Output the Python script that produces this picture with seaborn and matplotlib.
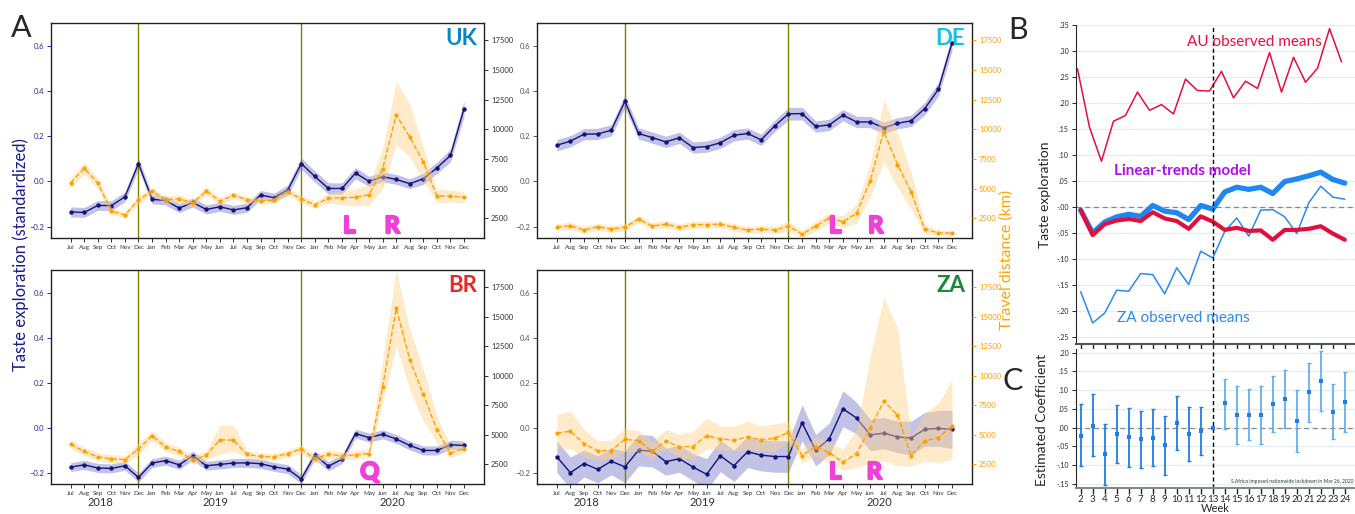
import numpy as np
import pandas as pd
import matplotlib
matplotlib.use('Agg')
import matplotlib.pyplot as plt
import matplotlib.transforms as mtransforms
import matplotlib.patheffects as pe
from matplotlib.ticker import FuncFormatter
import seaborn as sns

sns.set_style('ticks')
plt.rcParams['font.family'] = ['Lato', 'DejaVu Sans']

# ---- Panel A data (Jul 2018 .. Dec 2020) ----
months = ['Jul', 'Aug', 'Sep', 'Oct', 'Nov', 'Dec',
          'Jan', 'Feb', 'Mar', 'Apr', 'May', 'Jun', 'Jul', 'Aug', 'Sep', 'Oct', 'Nov', 'Dec',
          'Jan', 'Feb', 'Mar', 'Apr', 'May', 'Jun', 'Jul', 'Aug', 'Sep', 'Oct', 'Nov', 'Dec']
years = ['2018', '2019', '2020']

uk_taste = [-0.135, -0.137, -0.106, -0.107, -0.068, 0.079, -0.079, -0.084, -0.118, -0.093, -0.124, -0.112,
            -0.126, -0.116, -0.060, -0.072, -0.038, 0.079, 0.022, -0.031, -0.031, 0.037, 0.000, 0.021,
            0.009, -0.010, 0.012, 0.060, 0.115, 0.322]
uk_taste_ci = [0.022, 0.022, 0.022, 0.022, 0.022, 0.025, 0.02, 0.02, 0.02, 0.02, 0.02, 0.02,
               0.02, 0.02, 0.02, 0.02, 0.022, 0.025, 0.025, 0.025, 0.025, 0.025, 0.022, 0.022,
               0.022, 0.022, 0.025, 0.025, 0.028, 0.035]
uk_km = [5480, 6720, 5450, 3120, 2780, 4080, 4780, 4080, 4160, 3790, 4810, 3960, 4440, 4080, 3960,
         4050, 4750, 4130, 3650, 4190, 4250, 4270, 4500, 6690, 11220, 9340, 7260, 4390, 4390, 4270]
uk_km_lo = [5080, 6220, 5000, 2820, 2530, 3730, 4480, 3780, 3860, 3490, 4460, 3660, 4140, 3830, 3710,
            3800, 4450, 3830, 3350, 3790, 3650, 3570, 3600, 5000, 8720, 7650, 5680, 3790, 3900, 3800]
uk_km_hi = [5880, 7220, 5900, 3420, 3030, 4430, 5080, 4380, 4460, 4090, 5160, 4260, 4740, 4330, 4210,
            4300, 5050, 4430, 3950, 4590, 4850, 4970, 5400, 8390, 14040, 12150, 8490, 4980, 4900, 4750]

de_taste = [0.160, 0.178, 0.209, 0.210, 0.226, 0.354, 0.212, 0.194, 0.175, 0.193, 0.150, 0.154,
            0.171, 0.204, 0.212, 0.184, 0.246, 0.299, 0.300, 0.243, 0.250, 0.293, 0.263, 0.263,
            0.237, 0.257, 0.268, 0.322, 0.407, 0.612]
de_taste_ci = [0.025, 0.025, 0.025, 0.025, 0.025, 0.028, 0.025, 0.025, 0.025, 0.025, 0.025, 0.025,
               0.025, 0.025, 0.025, 0.025, 0.025, 0.028, 0.028, 0.025, 0.025, 0.025, 0.025, 0.025,
               0.025, 0.025, 0.025, 0.028, 0.03, 0.035]
de_km = [1770, 1880, 1520, 1800, 1600, 1770, 2440, 1850, 2020, 1740, 1970, 1970, 2020, 1740, 1520,
         1600, 1520, 1850, 1180, 1850, 2530, 2220, 2920, 5680, 9820, 7030, 4750, 1570, 1290, 1260]
de_km_lo = [1470, 1580, 1220, 1500, 1300, 1470, 2140, 1550, 1720, 1440, 1670, 1670, 1720, 1440, 1220,
            1300, 1220, 1450, 880, 1450, 2080, 1720, 2120, 4270, 7230, 5120, 3290, 1170, 1040, 1010]
de_km_hi = [2070, 2180, 1820, 2100, 1900, 2070, 2740, 2150, 2320, 2040, 2270, 2270, 2320, 2040, 1820,
            1900, 1820, 2250, 1480, 2250, 2980, 2720, 3720, 7090, 12520, 9760, 6400, 1970, 1540, 1510]

br_taste = [-0.175, -0.165, -0.179, -0.181, -0.169, -0.221, -0.157, -0.146, -0.165, -0.124, -0.169, -0.163,
            -0.157, -0.156, -0.160, -0.174, -0.184, -0.228, -0.121, -0.171, -0.140, -0.026, -0.044, -0.029,
            -0.050, -0.079, -0.101, -0.101, -0.076, -0.079]
br_taste_ci = [0.02] * 30
br_km = [4220, 3600, 3150, 2980, 2920, 3800, 4950, 3970, 3600, 2870, 3290, 4590, 4560, 3350, 3180,
         3150, 3430, 3800, 2980, 3370, 3230, 3320, 3430, 9070, 15730, 11360, 8450, 5410, 3460, 3850]
br_km_lo = [3870, 3250, 2800, 2630, 2570, 3300, 4550, 3570, 3250, 2520, 2890, 3400, 3630, 3050, 2880,
            2850, 3130, 3450, 2630, 3020, 2880, 2970, 3080, 7770, 12510, 8850, 6170, 4330, 3060, 3550]
br_km_hi = [4570, 3950, 3500, 3330, 3270, 4300, 5350, 4370, 3950, 3220, 3690, 5830, 5830, 3650, 3480,
            3450, 3730, 4150, 3330, 3720, 3580, 3670, 3780, 11380, 18940, 13920, 10540, 6590, 4050, 4150]

za_taste = [-0.129, -0.200, -0.159, -0.185, -0.149, -0.174, -0.100, -0.104, -0.151, -0.138, -0.175, -0.207,
            -0.125, -0.169, -0.107, -0.122, -0.128, -0.128, 0.022, -0.100, -0.049, 0.084, 0.043, -0.032,
            -0.024, -0.041, -0.046, -0.007, -0.003, -0.007]
za_taste_ci = [0.07, 0.07, 0.06, 0.06, 0.06, 0.07, 0.07, 0.07, 0.06, 0.06, 0.06, 0.07,
               0.07, 0.07, 0.07, 0.07, 0.07, 0.07, 0.08, 0.07, 0.07, 0.08, 0.07, 0.07,
               0.07, 0.07, 0.075, 0.075, 0.08, 0.085]
za_km = [5150, 5320, 4250, 3660, 3680, 4620, 4530, 3600, 4500, 4000, 4020, 4950, 4670, 4560, 4840,
         4590, 4730, 5210, 3260, 4020, 3490, 2700, 3430, 5570, 7860, 6700, 3260, 4500, 4780, 5770]
za_km_lo = [3910, 3830, 3130, 2870, 2930, 3620, 3620, 2920, 3830, 3000, 3000, 3830, 3770, 3620, 3770,
            3620, 3620, 4470, 2640, 3200, 2640, 2020, 2210, 2640, 2780, 2410, 2360, 2780, 2640, 2930]
za_km_hi = [6730, 7040, 5460, 4530, 4530, 5570, 5340, 4440, 5460, 5040, 5320, 6450, 5740, 5740, 6170,
            5740, 5960, 6110, 3770, 4900, 4390, 3770, 5460, 11670, 16660, 14060, 4900, 6870, 7710, 9610]

# ---- Panel B / C data (weeks) ----
weeks = np.arange(2, 25)
au_means = [0.266, 0.154, 0.088, 0.165, 0.176, 0.221, 0.186, 0.197, 0.179, 0.246, 0.224, 0.223,
            0.261, 0.210, 0.242, 0.228, 0.297, 0.221, 0.288, 0.240, 0.267, 0.343, 0.279]
za_means = [-0.163, -0.223, -0.204, -0.160, -0.162, -0.128, -0.130, -0.167, -0.117, -0.149, -0.085, -0.098,
            -0.047, -0.021, -0.056, -0.006, -0.005, -0.019, -0.051, 0.008, 0.040, 0.019, 0.015]
za_model = [-0.006, -0.050, -0.029, -0.019, -0.014, -0.018, 0.003, -0.008, -0.011, -0.024, 0.003, -0.004,
            0.029, 0.038, 0.034, 0.038, 0.026, 0.049, 0.054, 0.060, 0.067, 0.053, 0.046]
au_model = [-0.006, -0.054, -0.033, -0.026, -0.023, -0.027, -0.010, -0.022, -0.027, -0.042, -0.018, -0.028,
            -0.044, -0.040, -0.046, -0.045, -0.063, -0.044, -0.044, -0.042, -0.037, -0.051, -0.063]
coef = [-0.021, 0.005, -0.070, -0.018, -0.026, -0.031, -0.027, -0.046, 0.012, -0.018, -0.009, 0.000,
        0.065, 0.034, 0.035, 0.033, 0.063, 0.077, 0.017, 0.094, 0.125, 0.043, 0.068]
coef_hi = [0.062, 0.089, 0.011, 0.061, 0.053, 0.045, 0.049, 0.032, 0.084, 0.055, 0.054, 0.000,
           0.131, 0.110, 0.104, 0.110, 0.138, 0.155, 0.100, 0.173, 0.204, 0.117, 0.149]
coef_lo = [-0.102, -0.076, -0.153, -0.095, -0.106, -0.108, -0.102, -0.126, -0.060, -0.089, -0.074, 0.000,
           -0.003, -0.043, -0.034, -0.044, -0.011, 0.000, -0.066, 0.014, 0.045, -0.031, -0.012]

NAVY = '#14147a'
ORANGE = '#ffa000'
MAGENTA = '#f040d8'

fig = plt.figure(figsize=(13.55, 5.14), dpi=100)


def country_panel(rect, taste, taste_ci, km, km_lo, km_hi, name, name_color,
                  marks, left_col, right_col, bottom_row):
    x = np.arange(len(months))
    taste = np.array(taste)
    taste_ci = np.array(taste_ci)
    ax = fig.add_axes(rect)
    ax.fill_between(x, taste - taste_ci, taste + taste_ci, color='#a9a9dc', alpha=0.7, lw=0)
    df = pd.DataFrame({'m': x, 'taste': taste, 'km': km})
    sns.lineplot(data=df, x='m', y='taste', ax=ax, color=NAVY, lw=1, marker='o',
                 markersize=3.2, markeredgewidth=0)
    for v in (5, 17):
        ax.axvline(v, color='#808000', lw=1, zorder=1)
    ax.set_xlim(-1.45, 30.47)
    ax.set_ylim(-0.25, 0.7)
    ax.set_yticks([-0.2, 0.0, 0.2, 0.4, 0.6])
    ax.set_xticks(x)
    ax.set_xticklabels(months)
    ax.tick_params(axis='x', length=3, width=0.7, labelsize=4.5, pad=2, colors='#333333')
    ax.tick_params(axis='y', length=3, width=0.7, labelsize=5.5, pad=2, colors=left_col)
    ax.set_xlabel('')
    ax.set_ylabel('')
    for s in ax.spines.values():
        s.set_linewidth(1)
        s.set_color('#222222')

    ax2 = ax.twinx()
    ax2.fill_between(x, km_lo, km_hi, color='#ffd38a', alpha=0.45, lw=0)
    sns.lineplot(data=df, x='m', y='km', ax=ax2, color=ORANGE, lw=1, ls='--', marker='o',
                 markersize=3, markeredgewidth=0)
    ax2.set_ylim(850, 18950)
    ax2.set_yticks([2500, 5000, 7500, 10000, 12500, 15000, 17500])
    ax2.tick_params(axis='y', length=3, width=0.7, labelsize=5.5, pad=2, colors=right_col)
    ax2.set_xlabel('')
    ax2.set_ylabel('')
    for s in ax2.spines.values():
        s.set_visible(False)

    ax2.text(0.984, 0.928, name, transform=ax.transAxes, ha='right', va='center',
             fontsize=16, fontweight='bold', color=name_color)
    trans = mtransforms.blended_transform_factory(ax.transData, ax.transAxes)
    for letter, pos in marks:
        ax2.text(pos, 0.058, letter, transform=trans, ha='center', va='center',
                 fontsize=17, fontweight='bold', color=MAGENTA,
                 path_effects=[pe.withStroke(linewidth=1.6, foreground=MAGENTA)])
    if bottom_row:
        for yr, pos in zip(years, (2.2, 10.7, 23.7)):
            ax.text(pos, -0.085, yr, transform=trans, ha='center', va='center',
                    fontsize=8, color='#333333')
    return ax


country_panel([51 / 1355, 0.537, 433 / 1355, 0.418], uk_taste, uk_taste_ci, uk_km, uk_km_lo, uk_km_hi,
              'UK', '#0b84c4', [('L', 20.5), ('R', 23.7)], '#2a2a9a', '#333333', False)
country_panel([537 / 1355, 0.537, 435 / 1355, 0.418], de_taste, de_taste_ci, de_km, de_km_lo, de_km_hi,
              'DE', '#18c0e8', [('L', 20.4), ('R', 23.4)], '#555555', ORANGE, False)
country_panel([51 / 1355, 0.0584, 433 / 1355, 0.416], br_taste, br_taste_ci, br_km, br_km_lo, br_km_hi,
              'BR', '#e82828', [('Q', 22.05)], '#2a2a9a', '#333333', True)
country_panel([537 / 1355, 0.0584, 435 / 1355, 0.416], za_taste, za_taste_ci, za_km, za_km_lo, za_km_hi,
              'ZA', '#1a8a3a', [('L', 20.4), ('R', 23.3)], '#555555', ORANGE, True)

# ---- Panel B ----
fmt = FuncFormatter(lambda v, p: f'{v:.2f}'.replace('0.', '.', 1))
axB = fig.add_axes([0.794, 0.3307, 0.206, 0.6206])
for yv in np.arange(-0.25, 0.351, 0.05):
    axB.axhline(yv, color='#e2edf1', lw=0.9, zorder=0)
axB.axhline(0, color='#888888', lw=0.9, ls=(0, (4, 3)), zorder=1)
sns.lineplot(x=weeks - 0.27, y=au_means, ax=axB, color='#e3103c', lw=1.1)
sns.lineplot(x=weeks, y=za_means, ax=axB, color='#2a8af0', lw=1.1)
sns.lineplot(x=weeks, y=za_model, ax=axB, color='#1e88f0', lw=3.8)
sns.lineplot(x=weeks, y=au_model, ax=axB, color='#e0103c', lw=3.0)
axB.axvline(13, color='black', lw=1, ls=(0, (3, 2)))
axB.set_xlim(1.6, 24.85)
axB.set_ylim(-0.2635, 0.35)
axB.set_yticks(np.round(np.arange(-0.25, 0.351, 0.05), 2))
axB.yaxis.set_major_formatter(fmt)
axB.set_xticks(weeks)
axB.set_xticklabels([])
axB.tick_params(axis='y', length=3, width=0.7, labelsize=5, pad=2)
axB.tick_params(axis='x', length=4, width=1, pad=1)
axB.spines['top'].set_visible(False)
axB.spines['right'].set_visible(False)
axB.spines['bottom'].set_color('#555555')
axB.spines['bottom'].set_linewidth(1.5)
axB.set_xlabel('')
axB.set_ylabel('')
axB.text(10.85, 0.318, 'AU observed means', color='#e3103c', fontsize=11, va='center')
axB.text(4.8, 0.07, 'Linear-trends model', color='#b010e8', fontsize=11,
         fontweight='bold', va='center')
axB.text(5.0, -0.213, 'ZA observed means', color='#2a8af0', fontsize=11, va='center')

# ---- Panel C ----
axC = fig.add_axes([0.794, 0.0506, 0.206, 0.2704])
for yv in np.arange(-0.15, 0.201, 0.05):
    axC.axhline(yv, color='#e2edf1', lw=0.9, zorder=0)
axC.axhline(0, color='#888888', lw=0.9, ls=(0, (4, 3)), zorder=1)
coef = np.array(coef)
pre = weeks < 13
post = weeks > 13
for mask, col in ((pre, '#1b7fe6'), (post, '#62aef2')):
    axC.errorbar(weeks[mask], coef[mask],
                 yerr=[coef[mask] - np.array(coef_lo)[mask], np.array(coef_hi)[mask] - coef[mask]],
                 fmt='none', ecolor=col, elinewidth=1.3, capsize=1.5, capthick=1)
sns.scatterplot(x=weeks, y=coef, ax=axC, color='#1b7fe6', marker='s', s=9, linewidth=0, zorder=3)
axC.axvline(13, color='black', lw=1, ls=(0, (3, 2)))
axC.set_xlim(1.6, 24.85)
axC.set_ylim(-0.161, 0.21)
axC.set_yticks(np.round(np.arange(-0.15, 0.201, 0.05), 2))
axC.yaxis.set_major_formatter(fmt)
axC.set_xticks(weeks)
axC.tick_params(axis='y', length=3, width=0.7, labelsize=5, pad=2)
axC.tick_params(axis='x', length=4, width=1, labelsize=7, pad=1)
axC.spines['top'].set_visible(False)
axC.spines['right'].set_visible(False)
axC.spines['bottom'].set_color('#888888')
axC.spines['bottom'].set_linewidth(1.5)
axC.set_xlabel('Week', fontsize=8, labelpad=-1)
axC.set_ylabel('')
axC.text(24.75, -0.145, 'S.Africa imposed nationwide lockdown in Mar 26, 2020', fontsize=3.6,
         ha='right', va='center', color='#333333')

# ---- figure-level labels ----
fig.text(21 / 1355, 1 - 28 / 514, 'A', fontsize=22, ha='center', va='center')
fig.text(1018 / 1355, 1 - 30 / 514, 'B', fontsize=22, ha='center', va='center')
fig.text(1013 / 1355, 1 - 381 / 514, 'C', fontsize=22, ha='center', va='center')
fig.text(21 / 1355, 1 - 255 / 514, 'Taste exploration (standardized)', rotation=90,
         color='#1a1a8c', fontsize=12, ha='center', va='center')
fig.text(1007 / 1355, 1 - 260 / 514, 'Travel distance (km)', rotation=90,
         color='#ffa500', fontsize=11.5, ha='center', va='center')
fig.text(1045 / 1355, 1 - 195 / 514, 'Taste exploration', rotation=90,
         fontsize=10, ha='center', va='center')
fig.text(1042 / 1355, 1 - 420 / 514, 'Estimated Coefficient', rotation=90,
         fontsize=10, ha='center', va='center')

fig.savefig('out.png', dpi=100)
